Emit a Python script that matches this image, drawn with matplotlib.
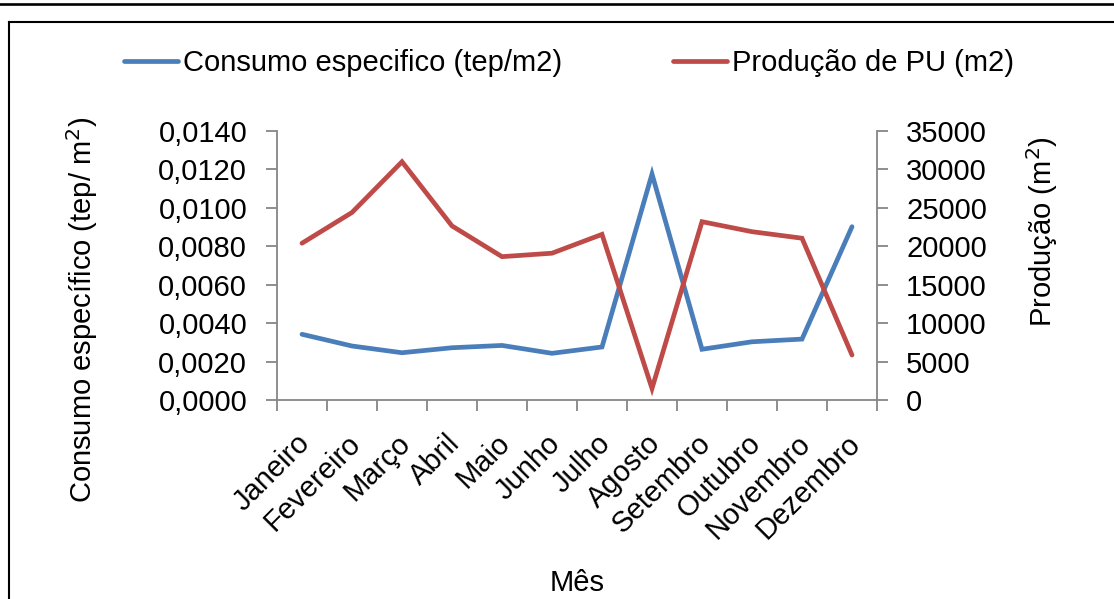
import matplotlib
matplotlib.use("Agg")
import matplotlib.pyplot as plt
from matplotlib.lines import Line2D
from matplotlib.ticker import FuncFormatter, FixedLocator
from matplotlib.transforms import ScaledTranslation

plt.rcParams['font.family'] = ['Liberation Sans', 'DejaVu Sans']

meses = ["Janeiro", "Fevereiro", "Março", "Abril", "Maio", "Junho",
         "Julho", "Agosto", "Setembro", "Outubro", "Novembro", "Dezembro"]
consumo = [0.00342, 0.00281, 0.00246, 0.00272, 0.00284, 0.00243,
           0.00276, 0.01176, 0.00264, 0.00303, 0.00317, 0.00902]
producao = [20400, 24400, 31000, 22650, 18650, 19100,
            21550, 1500, 23200, 21900, 21050, 5850]

W, H = 1114, 599
BLUE = "#4A7EBB"
RED = "#BE4B48"
GRAY = "#868686"
FS = 21
LW = 3.4

fig = plt.figure(figsize=(W / 100, H / 100), dpi=100)
ax = fig.add_axes([277 / W, 1 - 400 / H, 600 / W, 269 / H])
ax2 = ax.twinx()

x = list(range(len(meses)))
ax.plot(x, consumo, color=BLUE, lw=LW, solid_joinstyle="miter", solid_capstyle="round")
ax2.plot(x, producao, color=RED, lw=LW, solid_joinstyle="miter", solid_capstyle="round")

ax.set_xlim(-0.5, len(meses) - 0.5)
ax.set_ylim(0, 0.014)
ax2.set_ylim(0, 35000)

ax.set_yticks([i * 0.002 for i in range(8)])
ax.yaxis.set_major_formatter(FuncFormatter(lambda v, p: f"{v:.4f}".replace(".", ",")))
ax2.set_yticks([i * 5000 for i in range(8)])
ax2.yaxis.set_major_formatter(FuncFormatter(lambda v, p: f"{int(round(v))}"))

# category boundaries carry the tick marks, centres carry the labels
ax.xaxis.set_major_locator(FixedLocator([i - 0.5 for i in range(len(meses) + 1)]))
ax.xaxis.set_minor_locator(FixedLocator(x))
ax.set_xticklabels([])
ax.set_xticklabels(meses, minor=True, rotation=45, ha="right",
                   rotation_mode="anchor", fontsize=FS)
ax.tick_params(axis="x", which="minor", length=0, pad=21)
ax.tick_params(axis="x", which="major", length=8, width=1.3, color=GRAY, direction="out")
shift = ScaledTranslation(-6 / 100, 0, fig.dpi_scale_trans)
for lab in ax.get_xticklabels(minor=True):
    lab.set_transform(lab.get_transform() + shift)

ax.tick_params(axis="y", length=8, width=1.3, color=GRAY, direction="out",
               labelsize=FS, pad=13.5)
ax2.tick_params(axis="y", length=8, width=1.3, color=GRAY, direction="out",
                labelsize=FS, pad=13)

for a in (ax, ax2):
    a.spines["top"].set_visible(False)
    for s in ("left", "right", "bottom"):
        a.spines[s].set_color(GRAY)
        a.spines[s].set_linewidth(1.3)
ax.spines["right"].set_visible(False)
ax2.spines["left"].set_visible(False)
ax2.spines["bottom"].set_visible(False)

fig.text(82 / W, 1 - 310 / H, "Consumo específico (tep/ m$^2$)", rotation=90,
         ha="center", va="center", fontsize=FS)
fig.text(1042 / W, 1 - 232 / H, "Produção (m$^2$)", rotation=90,
         ha="center", va="center", fontsize=FS)
fig.text(577 / W, 1 - 583 / H, "Mês", ha="center", va="center", fontsize=FS)

handles = [Line2D([], [], color=BLUE, lw=LW, solid_capstyle="round"),
           Line2D([], [], color=RED, lw=LW, solid_capstyle="round")]
fig.legend(handles, ["Consumo especifico (tep/m2)", "Produção de PU (m2)"],
           loc="center left", bbox_to_anchor=(124 / W, 1 - 63 / H),
           ncol=2, frameon=False, fontsize=FS, handlelength=1.85,
           handletextpad=0.17, columnspacing=3.8, borderpad=0, borderaxespad=0)

# page rules and chart border
fig.add_artist(Line2D([0, 1], [1 - 3.5 / H, 1 - 3.5 / H], color="black",
                      lw=1.9, transform=fig.transFigure))
fig.add_artist(Line2D([9 / W, 1], [1 - 21.5 / H, 1 - 21.5 / H], color="black",
                      lw=1.5, transform=fig.transFigure))
fig.add_artist(Line2D([9 / W, 9 / W], [1 - 21.5 / H, 0], color="black",
                      lw=1.5, transform=fig.transFigure))

fig.savefig("out.png", dpi=100)
